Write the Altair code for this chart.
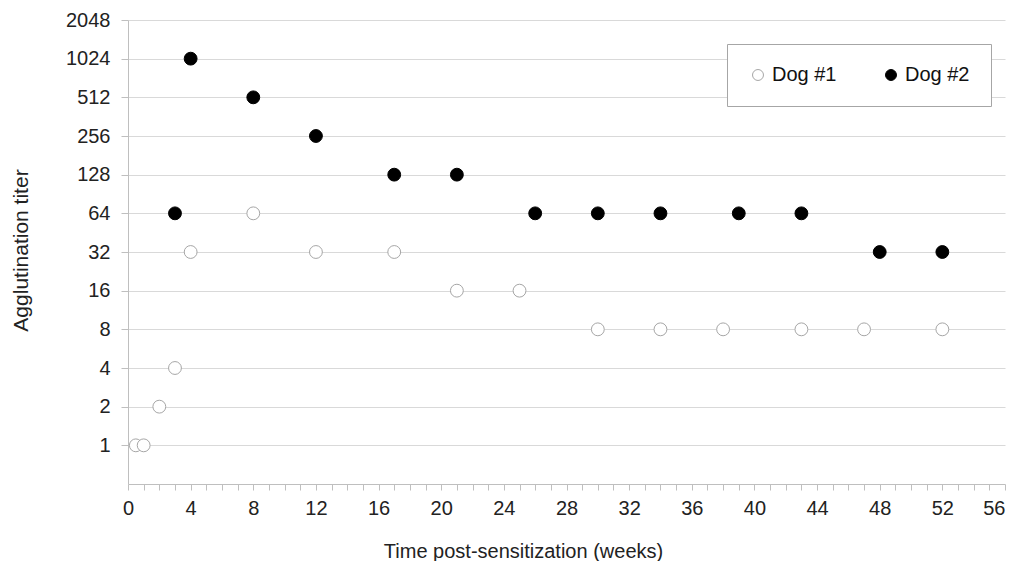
import altair as alt
import pandas as pd

dog1_weeks = [0.5, 1, 2, 3, 4, 8, 12, 17, 21, 25, 30, 34, 38, 43, 47, 52]
dog1_titer = [1, 1, 2, 4, 32, 64, 32, 32, 16, 16, 8, 8, 8, 8, 8, 8]
dog2_weeks = [3, 4, 8, 12, 17, 21, 26, 30, 34, 39, 43, 48, 52]
dog2_titer = [64, 1024, 512, 256, 128, 128, 64, 64, 64, 64, 64, 32, 32]
series = ["Dog #1", "Dog #2"]
y_ticks = [1, 2, 4, 8, 16, 32, 64, 128, 256, 512, 1024, 2048]
x_ticks = list(range(0, 57))

df = pd.concat([
    pd.DataFrame({"week": dog1_weeks, "titer": dog1_titer, "dog": series[0]}),
    pd.DataFrame({"week": dog2_weeks, "titer": dog2_titer, "dog": series[1]}),
])

FONT = "Liberation Sans"

chart = alt.Chart(df).mark_point(shape="circle", filled=True, size=165, strokeWidth=1, opacity=1).encode(
    x=alt.X("week:Q",
            scale=alt.Scale(domain=[0, 56], nice=False),
            axis=alt.Axis(values=x_ticks, grid=False,
                          labelExpr="datum.value % 4 == 0 ? datum.label : ''",
                          labelAlign=alt.ExprRef(expr="datum.value >= 56 ? 'right' : 'center'"),
                          labelOverlap=False, labelFlush=False,
                          tickSize=6, labelPadding=8,
                          domainColor="#bfbfbf", tickColor="#bfbfbf",
                          labelFont=FONT, labelFontSize=20, labelColor="#222",
                          title="Time post-sensitization (weeks)",
                          titleFont=FONT, titleFontSize=20, titleFontWeight="normal",
                          titleColor="#222", titleX=395, titleY=73,
                          titleAlign="center", titleBaseline="alphabetic")),
    y=alt.Y("titer:Q",
            scale=alt.Scale(type="log", base=2, domain=[0.5, 2048], nice=False),
            axis=alt.Axis(values=y_ticks, format="d", grid=True, gridColor="#d9d9d9",
                          tickSize=7, labelPadding=11, labelOverlap=False, labelFlush=False,
                          domainColor="#bfbfbf", tickColor="#bfbfbf",
                          labelFont=FONT, labelFontSize=20, labelColor="#222",
                          title="Agglutination titer",
                          titleFont=FONT, titleFontSize=21, titleFontWeight="normal",
                          titleColor="#222", titleX=-101, titleY=230, titleAngle=-90,
                          titleAlign="center", titleBaseline="alphabetic")),
    fill=alt.Fill("dog:N", scale=alt.Scale(domain=series, range=["white", "black"]),
                  legend=alt.Legend(title=None)),
    stroke=alt.Stroke("dog:N", scale=alt.Scale(domain=series, range=["#a6a6a6", "black"]),
                      legend=alt.Legend(title=None)),
).properties(
    width=877, height=464,
    padding={"left": 120, "top": 12, "right": 7, "bottom": 77},
    autosize=alt.AutoSizeParams(type="none"),
).configure_view(
    stroke=None
).configure_legend(
    orient="none", legendX=599, legendY=24, direction="horizontal",
    strokeColor="#a6a6a6", fillColor="white", padding=21, columnPadding=44,
    labelFont=FONT, labelFontSize=20, labelColor="#111", symbolSize=120,
    symbolStrokeWidth=1, labelOffset=4
)

chart.save("out.html", embed_options={"renderer": "svg", "actions": False})
